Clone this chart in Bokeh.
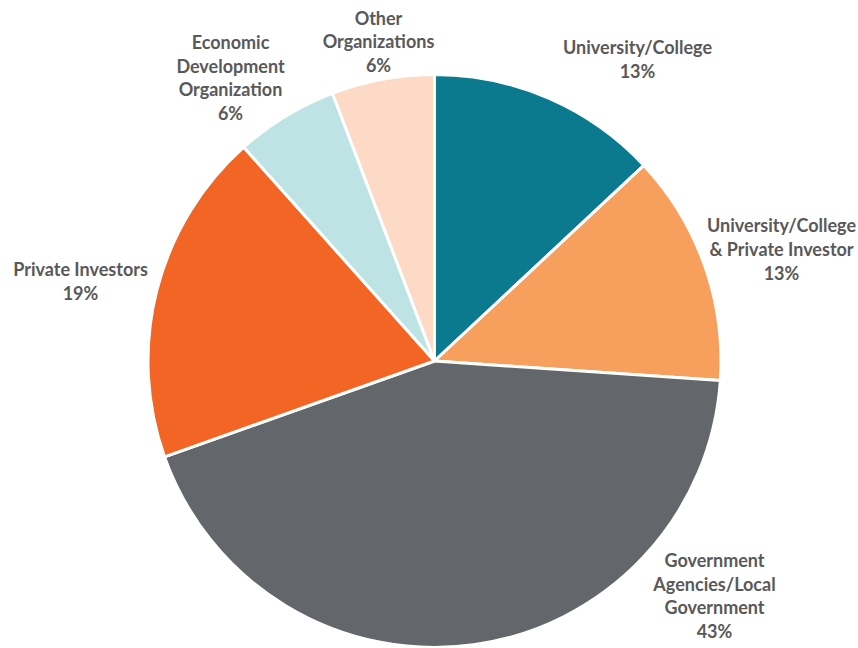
import numpy as np
from bokeh.plotting import figure
from bokeh.models import Range1d, ColumnDataSource
from bokeh.core.properties import value
from bokeh.embed import file_html
from bokeh.resources import INLINE

# ---- data ----
categories = ["University/College", "University/College\n& Private Investor",
              "Government\nAgencies/Local\nGovernment", "Private Investors",
              "Economic\nDevelopment\nOrganization", "Other\nOrganizations"]
counts = [9, 9, 30, 13, 4, 4]
pct_labels = ["13%", "13%", "43%", "19%", "6%", "6%"]
colors = ["#0C7A8E", "#F7A05E", "#63676B", "#F26524", "#BEE3E4", "#FDDAC6"]

# ---- layout (canvas pixels, y measured from top) ----
W, H = 858, 648
CX, CY, R = 434, 360.5, 286.5
label_xy = [(637, 58.5), (781, 248.5), (714, 595), (80, 280.5), (230, 77), (378, 41)]

p = figure(width=W, height=H, output_backend="svg", toolbar_location=None,
           x_range=Range1d(0, W), y_range=Range1d(0, H), min_border=0)
p.axis.visible = False
p.grid.visible = False
p.outline_line_color = None

vals = np.array(counts, dtype=float)
frac = vals / vals.sum()
cum = np.concatenate([[0], np.cumsum(frac)])
start = np.pi / 2 - 2 * np.pi * cum[:-1]
end = np.pi / 2 - 2 * np.pi * cum[1:]

src = ColumnDataSource(dict(start=start, end=end, color=colors))
p.wedge(x=CX, y=H - CY, radius=R, start_angle="start", end_angle="end",
        direction="clock", fill_color="color", line_color="white", line_width=3,
        source=src)

texts = [c + "\n" + v for c, v in zip(categories, pct_labels)]
lsrc = ColumnDataSource(dict(x=[a for a, b in label_xy], y=[H - b for a, b in label_xy], t=texts))
p.text(x="x", y="y", text="t", source=lsrc, text_align="center", text_baseline="middle",
       text_font=value("Lato"), text_font_style="bold", text_font_size="18px",
       text_color="#595959", text_line_height=1.07)

open("out.html", "w").write(file_html(p, INLINE))
